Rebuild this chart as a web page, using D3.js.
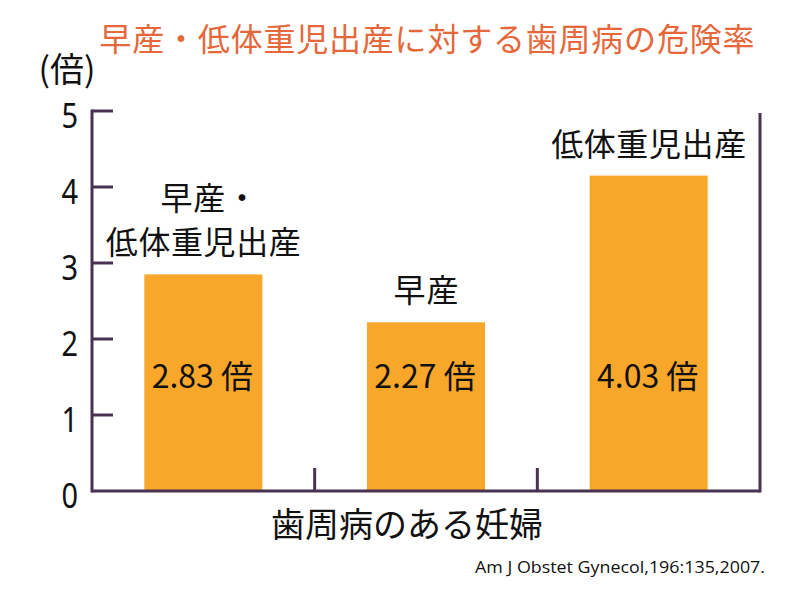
<!DOCTYPE html>
<html><head><meta charset="utf-8">
<script src="https://cdn.jsdelivr.net/npm/d3@7/dist/d3.min.js"></script>
<style>body{margin:0;background:#fff}</style>
</head><body>
<svg id="c" width="800" height="595"></svg>
<script>
const title = "早産・低体重児出産に対する歯周病の危険率";
const categories = ["早産・低体重児出産", "早産", "低体重児出産"];
const categoryLines = [["早産・", "低体重児出産"], ["早産"], ["低体重児出産"]];
const values = [2.85, 2.22, 4.15];
const valueLabels = ["2.83 倍", "2.27 倍", "4.03 倍"];
const yTicks = [0, 1, 2, 3, 4, 5];
const yUnit = "(倍)";
const xTitle = "歯周病のある妊婦";
const source = "Am J Obstet Gynecol,196:135,2007.";

const svg = d3.select("#c");
const jp = "'Noto Sans CJK JP','Noto Sans',sans-serif";
const axisColor = "#4a3352";
const barColor = "#F9A72A";

const x = d3.scaleBand().domain(categories).range([92, 760]).padding(0);
const y = d3.scaleLinear().domain([0, 5]).range([491, 111]);
const barW = x.bandwidth() * 0.53;

// title
svg.append("text").attr("x", 427).attr("y", 51).attr("text-anchor", "middle")
  .attr("font-family", jp).attr("font-size", 32).attr("fill", "#E5673A")
  .attr("textLength", 655).attr("lengthAdjust", "spacing").text(title);

// unit
svg.append("text").attr("x", 67).attr("y", 82).attr("text-anchor", "middle")
  .attr("font-family", jp).attr("font-size", 34).attr("fill", "#111").text(yUnit);

// bars
svg.selectAll("rect.bar").data(categories).enter().append("rect")
  .attr("x", d => x(d) + (x.bandwidth() - barW) / 2)
  .attr("y", (d, i) => y(values[i]))
  .attr("width", barW)
  .attr("height", (d, i) => y(0) - y(values[i]))
  .attr("fill", barColor);

// value labels
svg.selectAll("text.val").data(categories).enter().append("text")
  .attr("x", d => x(d) + x.bandwidth() / 2 - 1)
  .attr("y", 388).attr("text-anchor", "middle")
  .attr("font-family", jp).attr("font-size", 32).attr("fill", "#111")
  .text((d, i) => valueLabels[i]);

// category labels above bars
categories.forEach((c, i) => {
  const lines = categoryLines[i];
  const base = y(values[i]) - 20;
  lines.forEach((ln, j) => {
    svg.append("text")
      .attr("x", x(c) + x.bandwidth() / 2 + (j === 0 && lines.length > 1 ? 6 : 0))
      .attr("y", base - (lines.length - 1 - j) * 44)
      .attr("text-anchor", "middle")
      .attr("font-family", jp).attr("font-size", 32).attr("fill", "#111")
      .attr("textLength", ln.length * 32.5).attr("lengthAdjust", "spacing")
      .text(ln);
  });
});

// axes
const g = svg.append("g").attr("stroke", axisColor).attr("stroke-width", 3).attr("fill", "none");
g.append("line").attr("x1", 92).attr("x2", 92).attr("y1", y(5) - 1.5).attr("y2", y(0) + 1.5);
g.append("line").attr("x1", 760).attr("x2", 760).attr("y1", y(5) + 2).attr("y2", y(0) + 1.5);
g.append("line").attr("x1", 92).attr("x2", 760).attr("y1", y(0)).attr("y2", y(0));
yTicks.filter(t => t > 0).forEach(t => {
  g.append("line").attr("x1", 92).attr("x2", 113).attr("y1", y(t)).attr("y2", y(t));
});
categories.slice(1).forEach(c => {
  g.append("line").attr("x1", x(c)).attr("x2", x(c)).attr("y1", y(0) - 23).attr("y2", y(0));
});

// y tick labels
svg.selectAll("text.yt").data(yTicks).enter().append("text")
  .attr("y", d => y(d) + 17).attr("text-anchor", "end")
  .attr("font-family", "'Noto Sans',sans-serif").attr("font-size", 34).attr("fill", "#111")
  .attr("transform", `translate(${78 * 0.15},0) scale(0.85,1)`)
  .attr("x", 78).text(d => d);

// x title
svg.append("text").attr("x", 407).attr("y", 537).attr("text-anchor", "middle")
  .attr("font-family", jp).attr("font-size", 34).attr("fill", "#111").text(xTitle);

// source
svg.append("text").attr("x", 475).attr("y", 573)
  .attr("font-family", "'Open Sans',sans-serif").attr("font-size", 17).attr("fill", "#111")
  .attr("textLength", 290).attr("lengthAdjust", "spacingAndGlyphs").text(source);
</script>
</body></html>
